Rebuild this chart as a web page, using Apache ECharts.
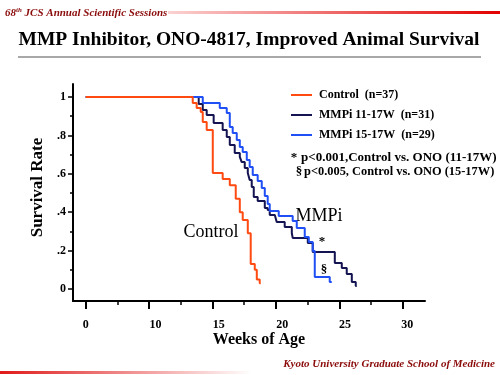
<!DOCTYPE html>
<html>
<head>
<meta charset="utf-8">
<script src="https://cdn.jsdelivr.net/npm/echarts@6/dist/echarts.min.js"></script>
<style>
  html, body { margin: 0; padding: 0; background: #fff; }
  #chart { width: 500px; height: 375px; }
</style>
</head>
<body>
<div id="chart"></div>
<script>
  // survival steps (weeks on the drawn axis, where "0" sits at 5)
  const controlWeeks = [5, 13.44, 13.75, 14.07, 14.23, 14.54, 15.02, 15.80, 16.36, 16.83, 17.15, 17.38, 17.78, 18.01, 18.33, 18.49, 18.72, 18.80]
  const controlSurv = [1, 0.969, 0.943, 0.922, 0.870, 0.828, 0.604, 0.573, 0.54, 0.47, 0.40, 0.36, 0.29, 0.13, 0.10, 0.05, 0.03, 0.03]
  const mmpi11Weeks = [5, 13.91, 14.23, 14.54, 15.09, 15.80, 16.12, 16.36, 16.75, 17.15, 17.30, 17.54, 17.78, 17.93, 18.09, 18.25, 18.56, 19.12, 19.35, 19.51, 19.91, 20.06, 20.69, 21.25, 21.32, 22.51, 22.90, 24.64, 25.19, 25.58, 25.98, 26.29, 26.37]
  const mmpi11Surv = [1, 0.964, 0.932, 0.906, 0.865, 0.828, 0.792, 0.750, 0.708, 0.688, 0.661, 0.630, 0.604, 0.568, 0.531, 0.479, 0.458, 0.422, 0.411, 0.385, 0.375, 0.349, 0.323, 0.292, 0.266, 0.240, 0.193, 0.135, 0.109, 0.078, 0.036, 0.015, 0.015]
  const mmpi15Weeks = [5, 14.23, 15.57, 16.12, 16.36, 16.59, 16.91, 17.15, 17.38, 17.70, 17.93, 18.17, 18.56, 18.88, 19.12, 19.35, 19.51, 20.22, 21.32, 21.64, 22.27, 22.59, 22.90, 23.06, 24.24, 24.40]
  const mmpi15Surv = [1, 0.969, 0.943, 0.917, 0.844, 0.813, 0.776, 0.740, 0.714, 0.672, 0.635, 0.594, 0.563, 0.526, 0.484, 0.443, 0.406, 0.380, 0.354, 0.318, 0.271, 0.245, 0.198, 0.063, 0.036, 0.036]

  const seriesNames = ['Control  (n=37)', 'MMPi 11-17W  (n=31)', 'MMPi 15-17W  (n=29)']

  // axis ticks / labels
  const xMajorTicks = [5, 10, 15, 20, 25, 30]
  const xMinorTicks = [7.5, 12.5, 17.5, 22.5, 27.5]
  const xLabelAt = [5, 10.5, 15.5, 20.5, 25.45, 30.35]
  const xLabelText = ['0', '10', '15', '20', '25', '30']
  const yMajorTicks = [0, 0.2, 0.4, 0.6, 0.8, 1]
  const yMinorTicks = [0.1, 0.3, 0.5, 0.7, 0.9]
  const yLabelText = ['0', '.2', '.4', '.6', '.8', '1']

  const serif = '"Liberation Serif", "DejaVu Serif", serif'
  const pair = (xs, ys) => xs.map((x, i) => [x, ys[i]])

  var myChart = echarts.init(document.getElementById('chart'))
  var axisText = { color: '#000', fontFamily: serif, fontWeight: 'bold', fontSize: 12 }
  var X_MIN = 4, X_MAX = 31.75, Y_MIN = -0.0625, Y_MAX = 1.068
  var gridBox = { left: 73, right: 75, top: 84, bottom: 74 }

  // extra axes (each in its own overlaid grid) that only carry tick marks
  function xTickAxis(gi, values, len, w) {
    return {
      gridIndex: gi, type: 'value', min: X_MIN, max: X_MAX, position: 'bottom',
      splitLine: { show: false },
      axisLine: { show: false, onZero: false },
      axisTick: { show: true, customValues: values, length: len, lineStyle: { color: '#000', width: w } },
      axisLabel: { show: false },
    }
  }
  function yTickAxis(gi, values, len, w) {
    return {
      gridIndex: gi, type: 'value', min: Y_MIN, max: Y_MAX, position: 'left',
      splitLine: { show: false },
      axisLine: { show: false, onZero: false },
      axisTick: { show: true, customValues: values, length: len, lineStyle: { color: '#000', width: w } },
      axisLabel: { show: false },
    }
  }

  var option = {
    animation: false,
    backgroundColor: '#fff',
    grid: [gridBox, gridBox, gridBox],
    legend: {
      data: seriesNames,
      orient: 'vertical',
      left: 286,
      top: 84,
      icon: 'rect',
      itemWidth: 21,
      itemHeight: 2,
      itemGap: 8,
      textStyle: { color: '#000', fontFamily: serif, fontWeight: 'bold', fontSize: 12, padding: [0, 0, 0, 2] },
    },
    xAxis: [
      {
        gridIndex: 0,
        type: 'value',
        min: X_MIN,
        max: X_MAX,
        splitLine: { show: false },
        axisLine: { show: true, onZero: false, lineStyle: { color: '#000', width: 2 } },
        axisTick: { show: false },
        axisLabel: {
          customValues: xLabelAt,
          margin: 18,
          ...axisText,
          formatter: function (v) {
            var i = xLabelAt.findIndex(a => Math.abs(a - v) < 0.01)
            return i >= 0 ? xLabelText[i] : ''
          },
        },
        name: 'Weeks of Age',
        nameLocation: 'middle',
        nameMoveOverlap: false,
        nameGap: 31,
        nameTextStyle: { color: '#000', fontFamily: serif, fontWeight: 'bold', fontSize: 16, padding: [0, 0, 0, 20] },
      },
      xTickAxis(1, xMajorTicks, 8, 2),
      xTickAxis(2, xMinorTicks, 4, 1.5),
    ],
    yAxis: [
      {
        gridIndex: 0,
        type: 'value',
        min: Y_MIN,
        max: Y_MAX,
        splitLine: { show: false },
        axisLine: { show: true, onZero: false, lineStyle: { color: '#000', width: 2 } },
        axisTick: { show: false },
        axisLabel: {
          customValues: yMajorTicks,
          margin: 7,
          ...axisText,
          formatter: function (v) {
            var i = yMajorTicks.findIndex(a => Math.abs(a - v) < 0.001)
            return i >= 0 ? yLabelText[i] : ''
          },
        },
        name: 'Survival Rate',
        nameLocation: 'middle',
        nameGap: 26,
        nameTextStyle: { color: '#000', fontFamily: serif, fontWeight: 'bold', fontSize: 17, padding: [0, 0, 0, 10] },
      },
      yTickAxis(1, yMajorTicks, 5, 1.5),
      yTickAxis(2, yMinorTicks, 3, 1.5),
    ],
    series: [
      {
        name: seriesNames[1],
        type: 'line',
        step: 'end',
        symbol: 'none',
        lineStyle: { color: '#141452', width: 2 },
        itemStyle: { color: '#141452' },
        data: pair(mmpi11Weeks, mmpi11Surv),
      },
      {
        name: seriesNames[2],
        type: 'line',
        step: 'end',
        symbol: 'none',
        lineStyle: { color: '#1f4ff5', width: 2 },
        itemStyle: { color: '#1f4ff5' },
        data: pair(mmpi15Weeks, mmpi15Surv),
      },
      {
        name: seriesNames[0],
        type: 'line',
        step: 'end',
        symbol: 'none',
        lineStyle: { color: '#ff4a12', width: 2 },
        itemStyle: { color: '#ff4a12' },
        data: pair(controlWeeks, controlSurv),
      },
    ],
    graphic: [
      // header bar
      {
        type: 'rect',
        shape: { x: 168, y: 11, width: 332, height: 3 },
        style: {
          fill: new echarts.graphic.LinearGradient(0, 0, 1, 0, [
            { offset: 0, color: '#fbd2d2' },
            { offset: 1, color: '#e20000' },
          ]),
        },
        silent: true,
      },
      {
        type: 'text',
        left: 5,
        top: 7,
        style: {
          text: '{a|68}{s|th}{a| JCS Annual Scientific Sessions}',
          rich: {
            a: { fontFamily: serif, fontStyle: 'italic', fontWeight: 'bold', fontSize: 11, fill: '#8b0a0a' },
            s: { fontFamily: serif, fontStyle: 'italic', fontWeight: 'bold', fontSize: 7, fill: '#8b0a0a', verticalAlign: 'top', padding: [0, 0, 5, 0] },
          },
        },
      },
      // title
      {
        type: 'text',
        x: 249,
        y: 40,
        style: {
          text: 'MMP Inhibitor, ONO-4817, Improved Animal Survival',
          fontFamily: serif,
          fontWeight: 'bold',
          fontSize: 19.5,
          fill: '#000',
          align: 'center',
          verticalAlign: 'middle',
        },
      },
      {
        type: 'line',
        shape: { x1: 18, y1: 57, x2: 481, y2: 57 },
        style: { stroke: '#a8a8a8', lineWidth: 2 },
      },
      // p-values
      {
        type: 'text', x: 294, y: 158,
        style: { text: '*', fontFamily: serif, fontWeight: 'bold', fontSize: 13, fill: '#000', align: 'center', verticalAlign: 'middle' },
      },
      {
        type: 'text', x: 301, y: 158,
        style: { text: 'p<0.001,Control vs. ONO (11-17W)', fontFamily: serif, fontWeight: 'bold', fontSize: 13, fill: '#000', verticalAlign: 'middle' },
      },
      {
        type: 'text', x: 299, y: 172,
        style: { text: '§', fontFamily: serif, fontWeight: 'bold', fontSize: 13, fill: '#000', align: 'center', verticalAlign: 'middle' },
      },
      {
        type: 'text', x: 304, y: 172,
        style: { text: 'p<0.005, Control vs. ONO (15-17W)', fontFamily: serif, fontWeight: 'bold', fontSize: 12.4, fill: '#000', verticalAlign: 'middle' },
      },
      // curve labels
      {
        type: 'text',
        x: 211,
        y: 232,
        style: { text: 'Control', fontFamily: serif, fontSize: 18, fill: '#000', align: 'center', verticalAlign: 'middle' },
      },
      {
        type: 'text',
        x: 319,
        y: 216,
        style: { text: 'MMPi', fontFamily: serif, fontSize: 18, fill: '#000', align: 'center', verticalAlign: 'middle' },
      },
      {
        type: 'text',
        x: 322,
        y: 242,
        style: { text: '*', fontFamily: serif, fontWeight: 'bold', fontSize: 13, fill: '#000', align: 'center', verticalAlign: 'middle' },
      },
      {
        type: 'text',
        x: 324,
        y: 270,
        style: { text: '§', fontFamily: serif, fontWeight: 'bold', fontSize: 13, fill: '#000', align: 'center', verticalAlign: 'middle' },
      },
      // footer
      {
        type: 'text',
        right: 5,
        top: 359,
        style: {
          text: 'Kyoto University Graduate School of Medicine',
          fontFamily: serif,
          fontStyle: 'italic',
          fontWeight: 'bold',
          fontSize: 11,
          fill: '#8b0a0a',
        },
      },
      {
        type: 'rect',
        shape: { x: 0, y: 371, width: 252, height: 3 },
        style: {
          fill: new echarts.graphic.LinearGradient(0, 0, 1, 0, [
            { offset: 0, color: '#e01a1a' },
            { offset: 1, color: '#ffffff' },
          ]),
        },
        silent: true,
      },
    ],
  }

  option && myChart.setOption(option)
</script>
</body>
</html>
